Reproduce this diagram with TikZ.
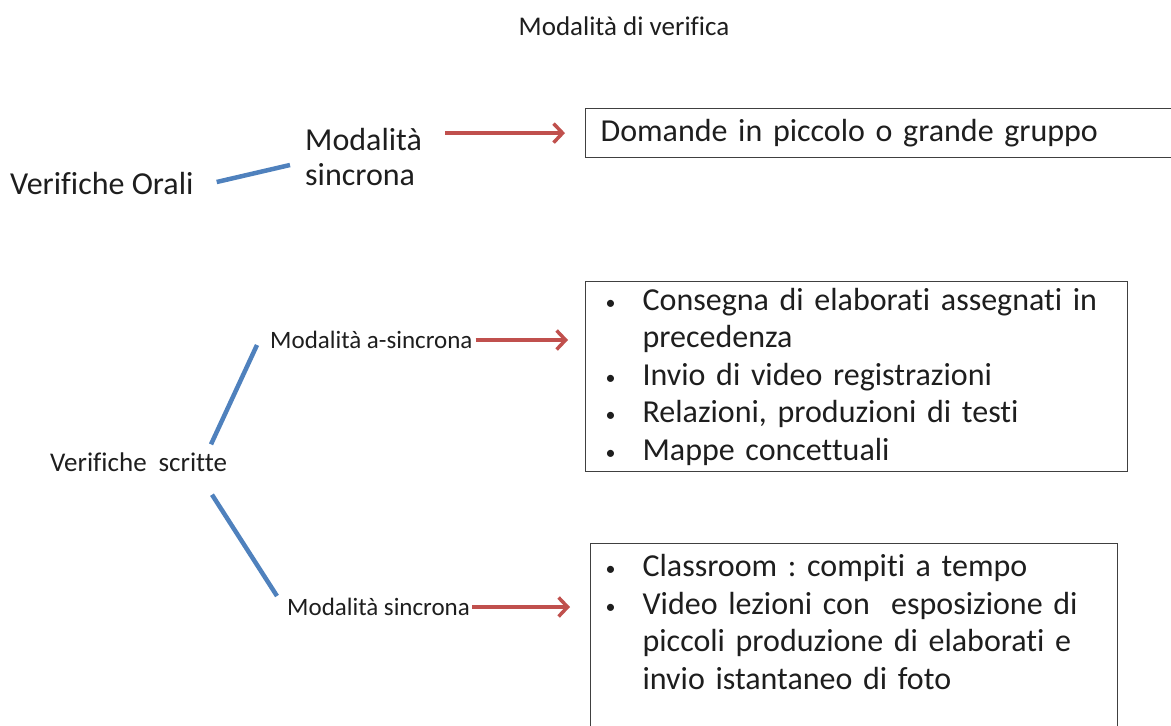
\documentclass[tikz,border=0pt]{standalone}
\usepackage{fontspec}
\setmainfont{Carlito}[Ligatures={NoCommon}]
\usepackage{xcolor}
\definecolor{lnblue}{RGB}{79,129,189}
\definecolor{arred}{RGB}{192,80,77}
\definecolor{txtgray}{RGB}{30,30,30}
\usetikzlibrary{arrows.meta,calc}
\tikzset{
  bigtxt/.style={inner sep=0pt,text=txtgray,font=\fontsize{32}{35}\selectfont,align=left},
  smalltxt/.style={inner sep=0pt,text=txtgray,font=\fontsize{25}{28}\selectfont,align=left},
  listbox/.style={draw=black!75,line width=1.2pt,anchor=north west,inner ysep=4pt,
    text=txtgray,font=\fontsize{32}{37.5}\selectfont\frenchspacing,align=left},
  blueline/.style={lnblue,line width=4.5pt},
  redarrow/.style={arred,line width=3.5pt,-{Straight Barb[length=9pt,width=19pt]}},
}
\newcommand{\bitem}{\makebox[37pt][l]{\raisebox{1pt}{\fontsize{20}{20}\selectfont\textbullet}}}
\newcommand{\bcont}{\hspace*{37pt}}

\begin{document}
\begin{tikzpicture}[x=1pt,y=-1pt]
\useasboundingbox (0,0) rectangle (1171,726);
\clip (0,0) rectangle (1171,726);
\node[smalltxt,font=\fontsize{27}{28}\selectfont] (title) at (624,26) {Modalità di verifica};
% orali
\node[bigtxt,anchor=west] (orali) at (10,184) {Verifiche Orali};
\node[bigtxt,anchor=west] (sinc) at (305,157) {Modalità\\sincrona};
\node[listbox,inner xsep=15pt,text width=590pt,minimum height=49pt] (dom) at (585,108)
  {Domande in piccolo o grande gruppo};
% scritte
\node[smalltxt,font=\fontsize{27}{28}\selectfont,anchor=west] (scritte) at (50,462) {Verifiche\hspace*{12pt}scritte};
\node[smalltxt,anchor=west] (asinc) at (270,340) {Modalità a-sincrona};
\node[smalltxt,anchor=west] (sinc2) at (287,607) {Modalità sincrona};
\node[listbox,inner xsep=20pt,text width=502pt,minimum height=190pt] (elab) at (585,281)
  {\bitem Consegna di elaborati assegnati in\\
   \bcont precedenza\\
   \bitem Invio di video registrazioni\\
   \bitem Relazioni, produzioni di testi\\
   \bitem Mappe concettuali};
\node[listbox,inner xsep=15pt,inner ysep=11pt,text width=497pt] (class) at (590,543)
  {\bitem Classroom : compiti a tempo\\
   \bitem Video lezioni con~ esposizione di\\
   \bcont piccoli produzione di elaborati e\\
   \bcont invio istantaneo di foto\\[60pt]\mbox{}};
% connectors
\draw[blueline] ([xshift=23pt,yshift=2pt]orali.east) -- ([xshift=-15pt,yshift=-8pt]sinc.west);
\draw[blueline] ([xshift=161pt,yshift=8pt]scritte.north west) -- ([xshift=-13pt,yshift=-5pt]asinc.west);
\draw[blueline] ([xshift=162pt,yshift=-23pt]scritte.south west) -- ([xshift=-10pt,yshift=2pt]sinc2.north west);
\draw[redarrow] ([xshift=23pt]sinc.east |- dom.west) -- ([xshift=-20pt]dom.west);
\draw[redarrow,shorten >=17pt] ([xshift=3pt]asinc.east) -- (asinc.east -| elab.west);
\draw[redarrow,shorten >=20pt] ([xshift=2pt]sinc2.east) -- (sinc2.east -| class.west);
\end{tikzpicture}
\end{document}
